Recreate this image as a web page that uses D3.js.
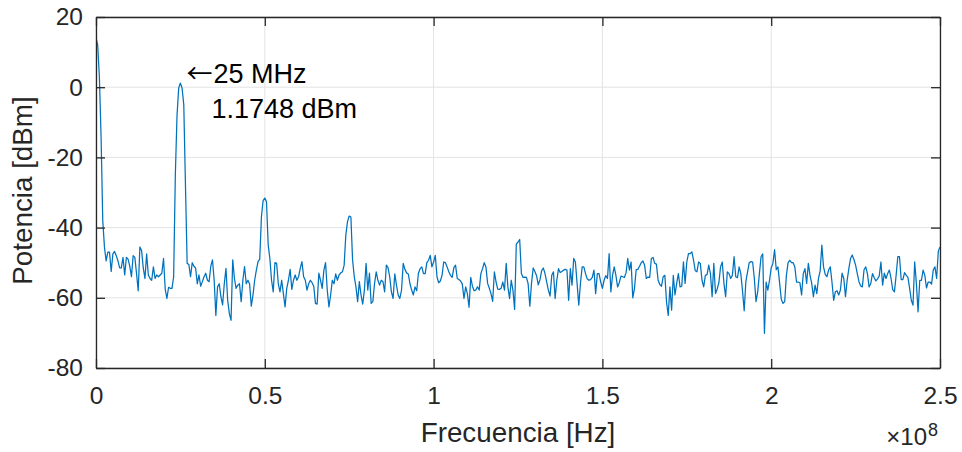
<!DOCTYPE html>
<html>
<head>
<meta charset="utf-8">
<script src="https://cdn.jsdelivr.net/npm/d3@7"></script>
<style>
  html, body { margin: 0; padding: 0; background: #fff; }
  svg { display: block; font-family: "Liberation Sans", Arial, Helvetica, sans-serif; }
</style>
</head>
<body>
<svg id="chart" width="962" height="452"></svg>
<script>
// Power spectrum, one sample every 0.5 MHz from 0 to 250 MHz (dBm)
const freqStepHz = 0.5e6;
const powerDbm = [
  14.2, 12.0, 3.0, -14, -38, -45.5, -49.5, -47, -47, -52.5,
  -47.5, -46.8, -48, -49.5, -51.5, -51.5, -48.5, -53.5, -48.5, -49,
  -51, -54, -48, -48.5, -53, -58, -45.5, -46.5, -51.5, -54.5,
  -47.5, -53.5, -54.5, -55, -51.2, -54.5, -53.5, -54, -53.5, -53,
  -48.8, -57.5, -60.2, -57, -57.3, -57.3, -54, -25, -8, -0.2,
  1.1748, -0.3, -5, -28, -50.2, -50.5, -54, -50, -51, -51.5,
  -56, -53.5, -56.7, -55.4, -54, -53, -55, -55.4, -51, -49.2,
  -55, -65, -56.9, -56, -59.7, -62, -56, -51.6, -60.7, -64.5,
  -66.4, -49.2, -54.5, -57.3, -56.4, -56, -61.1, -55, -51.1, -56,
  -55, -56.1, -62.4, -59.2, -55, -52.1, -49.7, -49, -36.9, -32.3,
  -31.6, -32.6, -44.9, -48.8, -55, -58.3, -50, -50.2, -56, -58.3,
  -55, -58.8, -62.6, -57.3, -55, -51.9, -57.6, -55, -53.5, -55,
  -54, -51.6, -49.7, -54, -55, -57.8, -56, -55, -55.7, -56.7,
  -61.6, -61.8, -53, -55, -57.3, -52.1, -50, -57.8, -62.6, -59.2,
  -55, -56, -53.2, -55, -53.5, -52.9, -52.6, -50.7, -42.1, -38.3,
  -36.7, -37, -49.2, -54, -56.9, -61.1, -55.4, -59.2, -61.8, -57.8,
  -50.2, -57.8, -53, -61.6, -61.1, -56, -52.6, -55, -56.4, -55,
  -55.4, -58.3, -50.7, -51.4, -54, -58.3, -60.2, -53.2, -56.4, -59.2,
  -60.2, -57.8, -50.2, -51.9, -52.9, -53.2, -56, -57.8, -59.2, -56.9,
  -58, -53, -51.7, -51.2, -53.1, -53.1, -50, -49.3, -47.9, -51.2,
  -49.8, -47.9, -54, -55.7, -55.2, -53.6, -49.8, -50, -51.2, -52.6,
  -53.6, -54.2, -51.4, -50.7, -54.5, -54.8, -55.2, -56.1, -60.2, -56.9,
  -58.8, -62.7, -54.2, -56.7, -58, -57.8, -56.9, -57.8, -53.1, -51.7,
  -50, -51.2, -55.9, -57.3, -58.8, -61, -52.6, -55.5, -57.5, -57.6,
  -57.3, -55.5, -57.8, -50.2, -56.9, -60.2, -55, -57.8, -63.3, -44.7,
  -44.1, -43.4, -53.1, -54.2, -54.1, -54.2, -56, -62.4, -55.9, -51.5,
  -52.5, -53.7, -56.3, -54.9, -52.3, -51.5, -53.1, -55.5, -57.8, -59.5,
  -53.6, -52.6, -60.2, -55, -51.7, -52.8, -52.5, -52.1, -51.9, -52.1,
  -60.7, -51.7, -56.4, -48.8, -49.8, -55.9, -62.1, -55.9, -51.2, -51.2,
  -53.1, -54.6, -55, -54.8, -54.2, -52.1, -58.8, -53.1, -53.1, -55.5,
  -57.3, -55, -53.7, -54.5, -47.4, -58.3, -53.6, -51.2, -53.6, -56.9,
  -55.7, -53.8, -54, -54.2, -52.9, -48.8, -52.1, -49.8, -60, -57.3,
  -52, -51.9, -51, -50, -49.5, -50.7, -54.5, -54.1, -54.2, -48.8,
  -48.5, -50.2, -50.4, -55, -56.2, -56.7, -54, -53.6, -61.2, -65,
  -56.9, -63.5, -53.6, -59.2, -55.9, -53.1, -56.9, -56.7, -49.8, -55.9,
  -49.8, -47.4, -47.4, -46.9, -49.3, -52.3, -52.6, -49.8, -50.2, -55,
  -56.9, -53.6, -53.4, -50.7, -53.1, -59.7, -50.2, -58.8, -57.5, -55.7,
  -51.2, -49.8, -55.9, -59.7, -52.6, -53.1, -54.5, -53.6, -48.3, -54,
  -54.3, -51.2, -53.1, -58, -63.7, -55.3, -52.6, -50, -49.7, -49.8,
  -54.5, -61.1, -58.3, -53.1, -48.3, -47.5, -70.1, -55.5, -57.8, -55,
  -51.5, -50.2, -46.3, -52, -51.2, -55.9, -60.5, -61.6, -61.1, -53.6,
  -50, -49.3, -50, -50, -51.2, -55.5, -55.5, -55.7, -59.2, -53.1,
  -51.7, -55.9, -50.2, -53.6, -55.9, -59.7, -56.4, -58.8, -54.5, -52.3,
  -45, -51.2, -53.3, -54, -52.1, -51.2, -55.5, -60.7, -58.3, -58,
  -59.2, -57.8, -53, -54.5, -59.7, -55, -51.7, -48.8, -47.8, -49.1,
  -50.7, -53.1, -55.4, -56.6, -56.9, -52, -51.2, -53.1, -56.9, -55.9,
  -53.1, -54.2, -55.2, -54.6, -53.8, -49.8, -56.4, -53, -54.5, -53.1,
  -52.1, -54.5, -57.7, -58.3, -53.6, -48.3, -48.3, -54.8, -54.8, -52.8,
  -53.6, -54.2, -57.3, -60.7, -62.1, -49.8, -55.9, -64, -55, -55,
  -52.1, -53.6, -57.2, -55.5, -55.5, -56.1, -52.1, -51.2, -54.5, -46.7,
  -45.5
];

// Axis ticks
const xTicks = [0, 0.5e8, 1e8, 1.5e8, 2e8, 2.5e8];
const xTickLabels = ["0", "0.5", "1", "1.5", "2", "2.5"];
const yTicks = [-80, -60, -40, -20, 0, 20];
const yTickLabels = ["-80", "-60", "-40", "-20", "0", "20"];

// Marked sample (carrier)
const markerIndex = 50;

const width = 962, height = 452;
const margin = { top: 17, right: 22, bottom: 84, left: 96 };
const innerW = width - margin.left - margin.right;
const innerH = height - margin.top - margin.bottom;

const axisColor = "#262626";
const gridColor = "#e3e3e3";
const lineColor = "#0072BD";
const tickFont = 24.5;
const labelFont = 27.8;
const noteFont = 27;

const data = powerDbm.map((p, i) => ({ f: i * freqStepHz, p }));

const x = d3.scaleLinear().domain([0, 2.5e8]).range([0, innerW]);
const y = d3.scaleLinear().domain([-80, 20]).range([innerH, 0]);

const svg = d3.select("#chart");
const g = svg.append("g").attr("transform", `translate(${margin.left},${margin.top})`);

// Grid
g.append("g").selectAll("line").data(xTicks).join("line")
  .attr("x1", d => x(d)).attr("x2", d => x(d))
  .attr("y1", 0).attr("y2", innerH)
  .attr("stroke", gridColor).attr("stroke-width", 1);
g.append("g").selectAll("line").data(yTicks).join("line")
  .attr("x1", 0).attr("x2", innerW)
  .attr("y1", d => y(d)).attr("y2", d => y(d))
  .attr("stroke", gridColor).attr("stroke-width", 1);

// Spectrum trace
const clipId = "plot-clip";
svg.append("defs").append("clipPath").attr("id", clipId)
  .append("rect").attr("width", innerW).attr("height", innerH);

g.append("path")
  .datum(data)
  .attr("clip-path", `url(#${clipId})`)
  .attr("fill", "none")
  .attr("stroke", lineColor)
  .attr("stroke-width", 1.25)
  .attr("stroke-linejoin", "round")
  .attr("d", d3.line().x(d => x(d.f)).y(d => y(d.p)));

// Axes (ticks point inward, box on all four sides)
function styleAxis(sel) {
  sel.selectAll(".domain").attr("stroke", axisColor).attr("stroke-width", 1.3);
  sel.selectAll(".tick line").attr("stroke", axisColor).attr("stroke-width", 1.3);
  sel.selectAll(".tick text").attr("fill", axisColor)
    .style("font-size", tickFont + "px")
    .style("font-family", '"Liberation Sans", Arial, sans-serif');
}

const xAxis = d3.axisBottom(x).tickValues(xTicks)
  .tickFormat((d, i) => xTickLabels[i]).tickSizeInner(-9).tickSizeOuter(0).tickPadding(18.6);
g.append("g").attr("transform", `translate(0,${innerH})`).call(xAxis).call(styleAxis);

const xAxisTop = d3.axisTop(x).tickValues(xTicks).tickFormat("").tickSizeInner(-9).tickSizeOuter(0);
g.append("g").call(xAxisTop).call(styleAxis);

const yAxis = d3.axisLeft(y).tickValues(yTicks)
  .tickFormat((d, i) => yTickLabels[i]).tickSizeInner(-9).tickSizeOuter(0).tickPadding(13);
g.append("g").call(yAxis).call(styleAxis);

const yAxisRight = d3.axisRight(y).tickValues(yTicks).tickFormat("").tickSizeInner(-9).tickSizeOuter(0);
g.append("g").attr("transform", `translate(${innerW},0)`).call(yAxisRight).call(styleAxis);

// Axis labels
svg.append("text")
  .attr("x", margin.left + innerW / 2).attr("y", 441.5)
  .attr("text-anchor", "middle")
  .attr("fill", axisColor).style("font-size", labelFont + "px")
  .text("Frecuencia [Hz]");

svg.append("text")
  .attr("transform", `translate(32,${margin.top + innerH / 2 - 2}) rotate(-90)`)
  .attr("text-anchor", "middle")
  .attr("fill", axisColor).style("font-size", labelFont + "px")
  .text("Potencia [dBm]");

// Exponent of the frequency axis
svg.append("text")
  .attr("x", 927).attr("y", 445)
  .attr("text-anchor", "end")
  .attr("fill", axisColor).style("font-size", "24px")
  .text("\u00d710");
svg.append("text")
  .attr("x", 928).attr("y", 436)
  .attr("fill", axisColor).style("font-size", "18px")
  .text("8");

// Carrier annotation
const mk = data[markerIndex];
const ax = margin.left + x(mk.f) + 6;
const ann = svg.append("g").attr("fill", "#000").style("font-size", noteFont + "px");
ann.append("text")
  .attr("x", ax).attr("y", 83)
  .style("font-family", '"Noto Sans CJK SC", "DejaVu Sans", sans-serif')
  .style("font-size", "26px")
  .text("\u2190");
ann.append("text")
  .attr("x", ax + 27).attr("y", 83)
  .text((mk.f / 1e6) + " MHz");
ann.append("text")
  .attr("x", ax + 25).attr("y", 118)
  .text(mk.p.toFixed(4) + " dBm");
</script>
</body>
</html>
